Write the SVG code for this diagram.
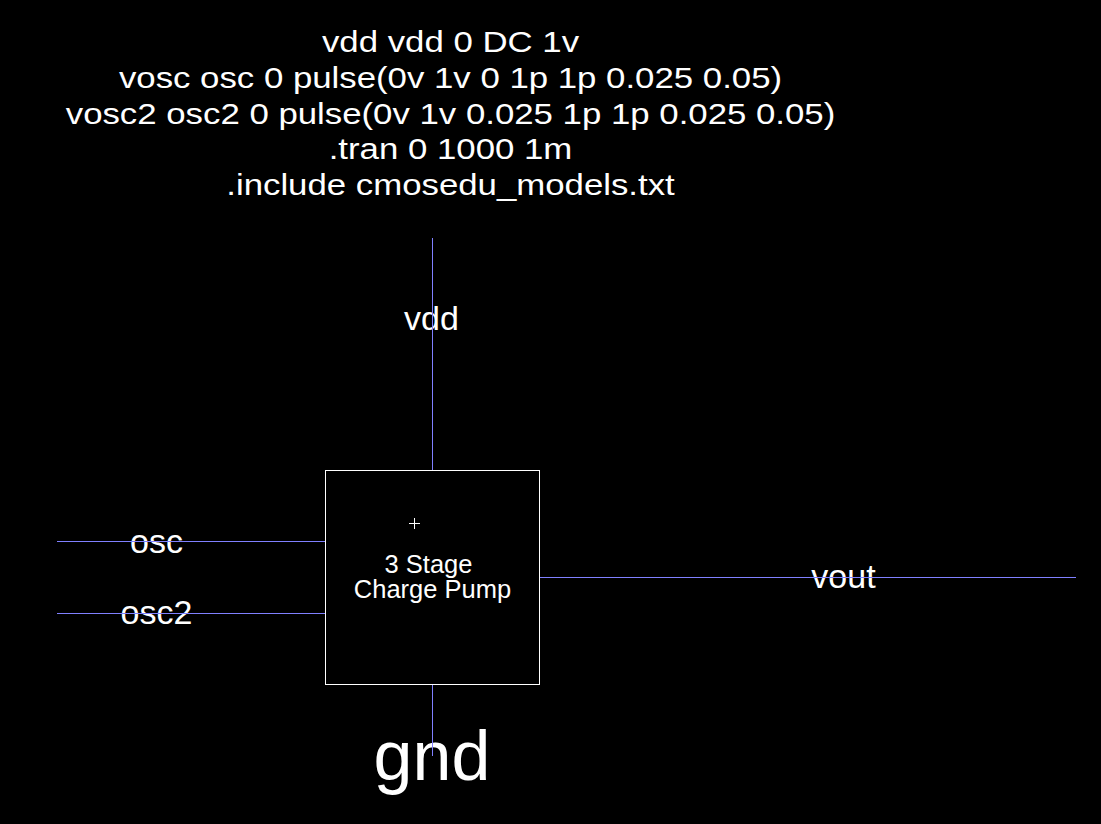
<svg xmlns="http://www.w3.org/2000/svg" width="1101" height="824" viewBox="0 0 1101 824">
<style>
text{font-family:"Liberation Sans",Arial,sans-serif;fill:#ffffff}
.t{font-size:30px;text-anchor:middle}
.lbl{font-size:34px;text-anchor:middle}
.wire{stroke:#8080ff;stroke-width:1;fill:none}
.box{stroke:#ffffff;stroke-width:1;fill:#000000}
</style>
<rect x="0" y="0" width="1101" height="824" fill="#000000"/>
<g id="netlist" transform="translate(450.5,0) scale(1.16,1)">
<text class="t" x="0" y="52.5">vdd vdd 0 DC 1v</text>
<text class="t" x="0" y="88">vosc osc 0 pulse(0v 1v 0 1p 1p 0.025 0.05)</text>
<text class="t" x="0" y="123.7">vosc2 osc2 0 pulse(0v 1v 0.025 1p 1p 0.025 0.05)</text>
<text class="t" x="0" y="159.3">.tran 0 1000 1m</text>
<text class="t" x="0" y="195">.include cmosedu_models.txt</text>
</g>
<g id="pump">
<rect class="box" x="325.5" y="470.5" width="214" height="214"/>
<path d="M409 523.5H420M414.5 518V529" stroke="#ffffff" stroke-width="1"/>
<text x="428.5" y="572.5" font-size="25.5" text-anchor="middle">3 Stage</text>
<text x="432.5" y="598.3" font-size="25.5" text-anchor="middle">Charge Pump</text>
</g>
<g id="vdd"><text class="lbl" x="431.5" y="330">vdd</text></g>
<g id="osc"><text class="lbl" x="156.5" y="553">osc</text></g>
<g id="osc2"><text class="lbl" x="156.5" y="624">osc2</text></g>
<g id="vout"><text class="lbl" x="843.5" y="588">vout</text></g>
<g id="gnd"><text x="432" y="780" font-size="70" text-anchor="middle">gnd</text></g>
<g id="connectors">
<path class="wire" d="M432.5 238V470"/>
<path class="wire" d="M432.5 685V756"/>
<path class="wire" d="M57 541.5H325"/>
<path class="wire" d="M57 613.5H325"/>
<path class="wire" d="M540 577.5H1076"/>
</g>
</svg>
